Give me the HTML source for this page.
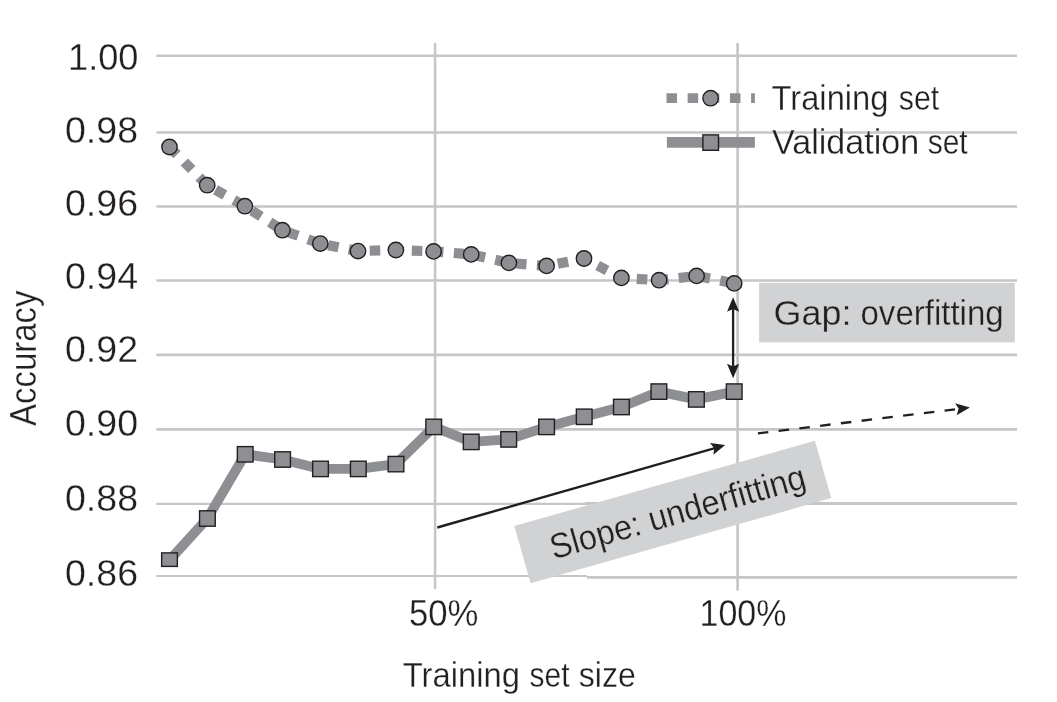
<!DOCTYPE html>
<html lang="en"><head><meta charset="utf-8"><title>Learning curve</title>
<style>html,body{margin:0;padding:0;background:#fff}svg{display:block}text{font-family:"Liberation Sans",sans-serif;fill:#231f20;stroke:#fff;stroke-width:0.3px}text.b{stroke:#d1d2d4}</style></head><body>
<svg width="1057" height="702" viewBox="0 0 1057 702">
<rect width="1057" height="702" fill="#fff"/>
<g stroke="#c5c6c8" stroke-width="2.6" fill="none">
<line x1="156.4" y1="55.80" x2="1017.0" y2="55.80"/>
<line x1="156.4" y1="132.50" x2="1017.0" y2="132.50"/>
<line x1="156.4" y1="206.50" x2="1017.0" y2="206.50"/>
<line x1="156.4" y1="280.50" x2="1017.0" y2="280.50"/>
<line x1="156.4" y1="354.85" x2="1017.0" y2="354.85"/>
<line x1="156.4" y1="429.40" x2="1017.0" y2="429.40"/>
<line x1="156.4" y1="503.8" x2="585.1" y2="503.8" stroke-width="2.15"/>
<line x1="585.1" y1="503.5" x2="1017.0" y2="503.5" stroke-width="2.8"/>
<line x1="156.4" y1="576.0" x2="587" y2="576.0" stroke-width="2.15"/>
<line x1="587" y1="577.4" x2="1017.0" y2="577.4" stroke-width="2.8"/>
<line x1="435.1" y1="43.1" x2="435.1" y2="589" stroke-width="2.5"/>
<line x1="737.6" y1="43.1" x2="737.6" y2="590.5" stroke-width="2.7"/>
</g>
<g>
<line x1="666.5" y1="98.1" x2="754.9" y2="98.1" stroke="#8d8f92" stroke-width="9.9" stroke-dasharray="10.5 10.65"/>
<circle cx="710.6" cy="98.2" r="7.7" fill="#8d8f92" stroke="#231f20" stroke-width="1.4"/>
<line x1="666.9" y1="142.4" x2="754.9" y2="142.4" stroke="#8d8f92" stroke-width="10.6"/>
<rect x="702.9" y="134.9" width="15.6" height="15.4" fill="#8d8f92" stroke="#231f20" stroke-width="1.4"/>
</g>
<path d="M169.50 147.00 L207.20 185.20 L244.90 206.20 L282.40 230.20 L320.30 243.60 L358.00 251.10 L395.90 250.00 L433.60 251.40 L471.20 254.40 L508.90 262.90 L546.60 265.90 L584.00 258.50 L621.40 277.90 L659.10 280.20 L696.60 275.90 L734.20 283.40" fill="none" stroke="#8d8f92" stroke-width="10.2" stroke-dasharray="10.6 10.46" stroke-linejoin="round"/>
<path d="M169.50 560.10 L207.40 518.50 L245.20 454.30 L282.60 459.50 L320.50 468.90 L358.30 468.90 L396.00 464.10 L433.70 426.90 L471.20 441.90 L508.70 439.40 L546.60 426.90 L584.20 416.80 L621.40 407.00 L658.90 391.60 L696.40 399.40 L734.20 391.60" fill="none" stroke="#8d8f92" stroke-width="9.8" stroke-linejoin="round"/>
<g fill="#8d8f92" stroke="#231f20" stroke-width="1.4">
<circle cx="169.5" cy="147.0" r="7.7"/>
<circle cx="207.2" cy="185.2" r="7.7"/>
<circle cx="244.9" cy="206.2" r="7.7"/>
<circle cx="282.4" cy="230.2" r="7.7"/>
<circle cx="320.3" cy="243.6" r="7.7"/>
<circle cx="358.0" cy="251.1" r="7.7"/>
<circle cx="395.9" cy="250.0" r="7.7"/>
<circle cx="433.6" cy="251.4" r="7.7"/>
<circle cx="471.2" cy="254.4" r="7.7"/>
<circle cx="508.9" cy="262.9" r="7.7"/>
<circle cx="546.6" cy="265.9" r="7.7"/>
<circle cx="584.0" cy="258.5" r="7.7"/>
<circle cx="621.4" cy="277.9" r="7.7"/>
<circle cx="659.1" cy="280.2" r="7.7"/>
<circle cx="696.6" cy="275.9" r="7.7"/>
<circle cx="734.2" cy="283.4" r="7.7"/>
<rect x="161.65" y="552.9" width="15.7" height="13.5"/>
<rect x="199.55" y="510.80" width="15.7" height="15.4"/>
<rect x="237.35" y="446.60" width="15.7" height="15.4"/>
<rect x="274.75" y="451.80" width="15.7" height="15.4"/>
<rect x="312.65" y="461.20" width="15.7" height="15.4"/>
<rect x="350.45" y="461.20" width="15.7" height="15.4"/>
<rect x="388.15" y="456.40" width="15.7" height="15.4"/>
<rect x="425.85" y="419.20" width="15.7" height="15.4"/>
<rect x="463.35" y="434.20" width="15.7" height="15.4"/>
<rect x="500.85" y="431.70" width="15.7" height="15.4"/>
<rect x="538.75" y="419.20" width="15.7" height="15.4"/>
<rect x="576.35" y="409.10" width="15.7" height="15.4"/>
<rect x="613.55" y="399.30" width="15.7" height="15.4"/>
<rect x="651.05" y="383.90" width="15.7" height="15.4"/>
<rect x="688.55" y="391.70" width="15.7" height="15.4"/>
<rect x="726.35" y="383.90" width="15.7" height="15.4"/>
</g>
<rect x="759.1" y="282.8" width="255.7" height="59.5" fill="#d1d2d4"/>
<line x1="733.1" y1="306" x2="733.1" y2="369" stroke="#231f20" stroke-width="2.3"/>
<path d="M733.10 297.30 L739.20 311.80 L733.10 309.00 L727.00 311.80 Z" fill="#231f20"/>
<path d="M733.10 378.30 L727.00 363.80 L733.10 366.60 L739.20 363.80 Z" fill="#231f20"/>
<line x1="437.30" y1="527.50" x2="716.55" y2="447.58" stroke="#231f20" stroke-width="2.4"/>
<path d="M725.20 445.10 L713.32 454.84 L714.34 448.21 L709.97 443.12 Z" fill="#231f20"/>
<line x1="757.90" y1="433.40" x2="960.97" y2="408.59" stroke="#231f20" stroke-width="2.35" stroke-dasharray="10.5 10.4"/>
<path d="M969.90 407.50 L956.64 415.26 L958.68 408.87 L955.16 403.15 Z" fill="#231f20"/>
<g transform="translate(672.85 512.10) rotate(-15.85)">
<rect x="-156.3" y="-29.9" width="312.5" height="59.6" fill="#d1d2d4"/>
<text class="b" x="-127.4" y="13" font-size="35" textLength="264" lengthAdjust="spacingAndGlyphs">Slope: underfitting</text>
</g>
<text x="68.0" y="69.9" font-size="37.2" textLength="70.5" lengthAdjust="spacingAndGlyphs">1.00</text>
<text x="65.0" y="143.0" font-size="37.2" textLength="73.0" lengthAdjust="spacingAndGlyphs">0.98</text>
<text x="65.0" y="215.8" font-size="37.2" textLength="73.0" lengthAdjust="spacingAndGlyphs">0.96</text>
<text x="65.0" y="288.8" font-size="37.2" textLength="73.0" lengthAdjust="spacingAndGlyphs">0.94</text>
<text x="65.0" y="361.5" font-size="37.2" textLength="73.0" lengthAdjust="spacingAndGlyphs">0.92</text>
<text x="65.0" y="435.7" font-size="37.2" textLength="73.0" lengthAdjust="spacingAndGlyphs">0.90</text>
<text x="65.0" y="510.9" font-size="37.2" textLength="73.0" lengthAdjust="spacingAndGlyphs">0.88</text>
<text x="65.0" y="585.8" font-size="37.2" textLength="73.0" lengthAdjust="spacingAndGlyphs">0.86</text>
<text x="409.0" y="626.4" font-size="36.7" textLength="69.5" lengthAdjust="spacingAndGlyphs">50%</text>
<text x="699.5" y="626.2" font-size="36.7" textLength="87.0" lengthAdjust="spacingAndGlyphs">100%</text>
<text y="687.0" font-size="35.0"><tspan x="402.7" textLength="117.2" lengthAdjust="spacingAndGlyphs">Training</tspan> <tspan x="529.6" textLength="40.0" lengthAdjust="spacingAndGlyphs">set</tspan> <tspan x="578.8" textLength="57.0" lengthAdjust="spacingAndGlyphs">size</tspan></text>
<text y="109.7" font-size="34.5"><tspan x="771.5" textLength="117.0" lengthAdjust="spacingAndGlyphs">Training</tspan> <tspan x="898.8" textLength="40.4" lengthAdjust="spacingAndGlyphs">set</tspan></text>
<text y="153.6" font-size="34.5"><tspan x="772.0" textLength="147.2" lengthAdjust="spacingAndGlyphs">Validation</tspan> <tspan x="927.7" textLength="39.9" lengthAdjust="spacingAndGlyphs">set</tspan></text>
<text y="324.6" font-size="34.5" class="b"><tspan x="773.5" textLength="77.9" lengthAdjust="spacingAndGlyphs">Gap:</tspan> <tspan x="860.5" textLength="143.2" lengthAdjust="spacingAndGlyphs">overfitting</tspan></text>
<text transform="translate(35.6 426) rotate(-90)" x="0" y="0" font-size="36.2" textLength="135.5" lengthAdjust="spacingAndGlyphs">Accuracy</text>
</svg></body></html>
